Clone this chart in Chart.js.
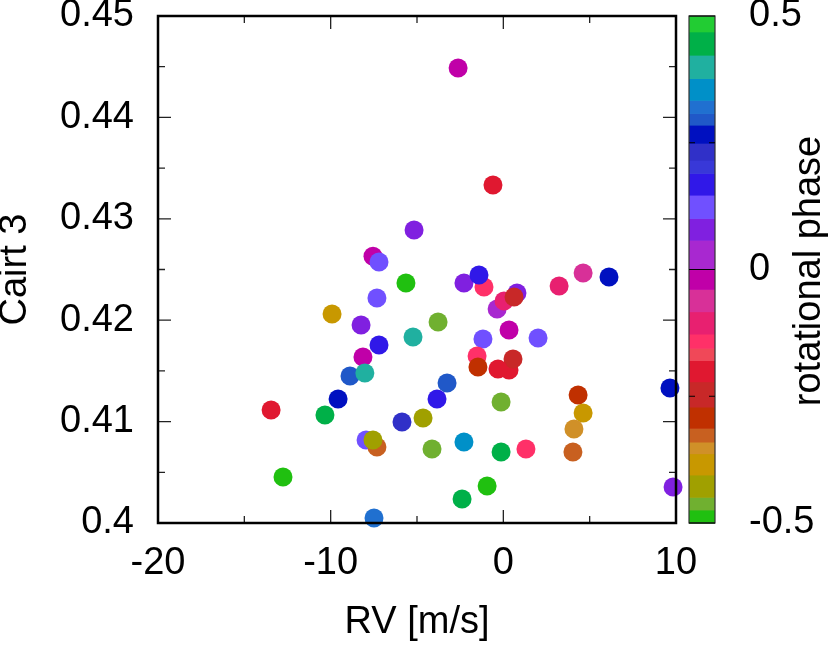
<!DOCTYPE html>
<html>
<head>
<meta charset="utf-8">
<script src="https://cdn.jsdelivr.net/npm/chart.js@4.4.1/dist/chart.umd.min.js"></script>
<style>
  html, body { margin: 0; padding: 0; background: #fff; }
  canvas { display: block; }
</style>
</head>
<body>
<canvas id="chart" width="830" height="648"></canvas>
<script>
// RV [m/s] of each observation
const rvValues = [
  -2.62, -0.60, -5.17, -7.55, -7.20, -5.64, -7.32, -9.92, -8.24, -3.78,
  -5.23, -7.20, -8.13, -8.88, -8.02, -3.26, -9.57, -3.84, -13.45, -10.33,
  -5.87, -4.65, -7.95, -7.32, -7.55, -4.13, -12.76, -7.49, -2.28, -1.12,
  -1.41, -0.36, 0.04, 0.79, 0.62, 3.23, 4.62, 6.12, -1.18, 0.33,
  2.01, -1.52, -1.47, 0.33, 0.56, -0.31, 9.65, 4.33, 4.62, 4.09,
  4.03, -0.13, -2.28, -0.13, 1.31, -0.94, -2.39, 9.83
];
// Cairt 3 index
const cairtValues = [
  0.44487, 0.43333, 0.42890, 0.42630, 0.42574, 0.42367, 0.42219, 0.42061, 0.41953, 0.41982,
  0.41834, 0.41755, 0.41637, 0.41450, 0.41479, 0.41381, 0.41223, 0.41223, 0.41114, 0.41065,
  0.40996, 0.41036, 0.40819, 0.40750, 0.40819, 0.40730, 0.40454, 0.40049, 0.42367, 0.42327,
  0.42446, 0.42110, 0.42189, 0.42268, 0.42229, 0.42337, 0.42465, 0.42426, 0.41815, 0.41903,
  0.41824, 0.41647, 0.41538, 0.41509, 0.41617, 0.41519, 0.41331, 0.41262, 0.41085, 0.40927,
  0.40700, 0.41193, 0.40799, 0.40700, 0.40730, 0.40365, 0.40237, 0.40355
];
// rotational phase (colour)
const phaseValues = [
  -0.02, -0.20, 0.08, -0.02, 0.12, -0.49, 0.12, -0.38, 0.08, -0.46,
  0.40, 0.17, -0.01, 0.30, 0.40, 0.30, 0.27, 0.17, -0.20, 0.45,
  0.22, -0.42, 0.13, -0.33, -0.44, -0.46, -0.48, 0.32, 0.08, -0.14,
  0.17, 0.02, -0.10, 0.06, -0.23, -0.10, -0.06, 0.27, 0.11, -0.01,
  0.12, -0.14, -0.30, -0.20, -0.25, -0.19, 0.26, -0.29, -0.39, -0.35,
  -0.33, -0.46, 0.36, 0.45, -0.14, -0.49, 0.44, 0.08
];

const xTicks = [-20, -10, 0, 10];
const xMinorTicks = [-15, -5, 5];
const yTicks = [0.40, 0.41, 0.42, 0.43, 0.44, 0.45];
const yMinorTicks = [0.405, 0.415, 0.425, 0.435, 0.445];
const cbTicks = [-0.5, 0, 0.5];
const cbMinorTicks = [-0.25, 0.25];

// colour bar bands, bottom (-0.5) to top (0.5)
const paletteEdges = [-0.5, -0.474, -0.449, -0.405, -0.363, -0.340, -0.313, -0.271, -0.221,
  -0.179, -0.155, -0.127, -0.083, -0.039, 0, 0.058, 0.101, 0.147, 0.190, 0.216, 0.249,
  0.285, 0.308, 0.334, 0.377, 0.423, 0.469, 0.5];
const paletteColors = ['#20c010', '#70b030', '#a0a000', '#c89800', '#d09028', '#c86020',
  '#c03000', '#c82828', '#e01830', '#f04858', '#ff3068', '#e82070', '#d83098', '#c000a8',
  '#a828d0', '#8020e0', '#7050ff', '#3018e8', '#3838d8', '#3030c8', '#0010c0', '#2058c8',
  '#2070d0', '#0090c8', '#20b0a0', '#00b048', '#22cc33'];

function phaseColor(p) {
  for (let i = 0; i < paletteColors.length; i++) {
    if (p < paletteEdges[i + 1]) return paletteColors[i];
  }
  return paletteColors[paletteColors.length - 1];
}

const FONT = '"Liberation Sans", Arial, Helvetica, sans-serif';
Chart.defaults.font.family = FONT;
Chart.defaults.font.size = 38;
Chart.defaults.color = '#000';

function tickMarks(ctx, scale, values, len, area, horizontal) {
  values.forEach(v => {
    const p = scale.getPixelForValue(v);
    ctx.beginPath();
    if (horizontal) {
      ctx.moveTo(p, area.bottom); ctx.lineTo(p, area.bottom - len);
      ctx.moveTo(p, area.top); ctx.lineTo(p, area.top + len);
    } else {
      ctx.moveTo(area.left, p); ctx.lineTo(area.left + len, p);
      ctx.moveTo(area.right, p); ctx.lineTo(area.right - len, p);
    }
    ctx.stroke();
  });
}

const framePlugin = {
  id: 'frame',
  afterDatasetsDraw(chart) {
    const ctx = chart.ctx;
    const a = chart.chartArea;
    const cb = chart.scales.cb;
    ctx.save();

    // colour bar
    const bar = { left: 689, right: 715, top: a.top, bottom: a.bottom };
    for (let i = 0; i < paletteColors.length; i++) {
      const y0 = cb.getPixelForValue(paletteEdges[i]);
      const y1 = cb.getPixelForValue(paletteEdges[i + 1]);
      ctx.fillStyle = paletteColors[i];
      ctx.fillRect(bar.left, y1, bar.right - bar.left, y0 - y1 + 0.6);
    }
    ctx.strokeStyle = '#333';
    ctx.lineWidth = 1.2;
    ctx.strokeRect(bar.left, bar.top, bar.right - bar.left, bar.bottom - bar.top);
    ctx.strokeStyle = '#000';
    tickMarks(ctx, cb, cbTicks, 13, bar, false);
    tickMarks(ctx, cb, cbMinorTicks, 6, bar, false);

    // plot ticks, pointing inwards on all four sides
    ctx.strokeStyle = '#222';
    ctx.lineWidth = 1.3;
    tickMarks(ctx, chart.scales.x, xTicks, 13, a, true);
    tickMarks(ctx, chart.scales.x, xMinorTicks, 7, a, true);
    tickMarks(ctx, chart.scales.y, yTicks, 13, a, false);
    tickMarks(ctx, chart.scales.y, yMinorTicks, 7, a, false);

    // frame
    ctx.strokeStyle = '#000';
    ctx.lineWidth = 2.5;
    ctx.strokeRect(a.left, a.top, a.right - a.left, a.bottom - a.top);

    // colour bar title, reading bottom to top
    ctx.translate(820, (a.top + a.bottom) / 2 + 1.5);
    ctx.rotate(-Math.PI / 2);
    ctx.fillStyle = '#000';
    ctx.font = '38px ' + FONT;
    ctx.textAlign = 'center';
    ctx.textBaseline = 'alphabetic';
    ctx.fillText('rotational phase', 0, 0);
    ctx.restore();
  }
};

const points = rvValues.map((x, i) => ({ x: x, y: cairtValues[i] }));

new Chart(document.getElementById('chart'), {
  type: 'scatter',
  data: {
    datasets: [{
      data: points,
      pointRadius: 9.5,
      pointHoverRadius: 9.5,
      pointBorderWidth: 0,
      pointBackgroundColor: phaseValues.map(phaseColor),
      clip: false
    }]
  },
  options: {
    responsive: false,
    animation: false,
    events: [],
    layout: { padding: { top: 16, left: 0, right: 0, bottom: 0 } },
    plugins: { legend: { display: false }, tooltip: { enabled: false } },
    scales: {
      x: {
        type: 'linear',
        position: 'bottom',
        min: -20, max: 10,
        grid: { display: false, drawTicks: false },
        border: { display: false },
        ticks: { padding: 18, callback: v => String(v) },
        title: { display: true, text: 'RV [m/s]', padding: { top: 0, bottom: 3 } },
        afterBuildTicks: s => { s.ticks = xTicks.map(v => ({ value: v })); },
        afterFit: s => { s.height = 125; s.paddingLeft = 0; s.paddingRight = 0; }
      },
      y: {
        type: 'linear',
        position: 'left',
        min: 0.40, max: 0.45,
        grid: { display: false, drawTicks: false },
        border: { display: false },
        ticks: { padding: 24, callback: v => String(Number(v.toFixed(3))) },
        title: { display: true, text: 'Cairt 3', font: { lineHeight: 0.84 }, padding: 0 },
        afterBuildTicks: s => { s.ticks = yTicks.map(v => ({ value: v })); },
        afterFit: s => { s.width = 158; s.paddingTop = 0; s.paddingBottom = 0; }
      },
      cb: {
        type: 'linear',
        position: 'right',
        min: -0.5, max: 0.5,
        grid: { display: false, drawTicks: false },
        border: { display: false },
        ticks: { padding: 73, callback: v => String(v) },
        afterBuildTicks: s => { s.ticks = cbTicks.map(v => ({ value: v })); },
        afterFit: s => { s.width = 154; s.paddingTop = 0; s.paddingBottom = 0; }
      }
    }
  },
  plugins: [framePlugin]
});
</script>
</body>
</html>
